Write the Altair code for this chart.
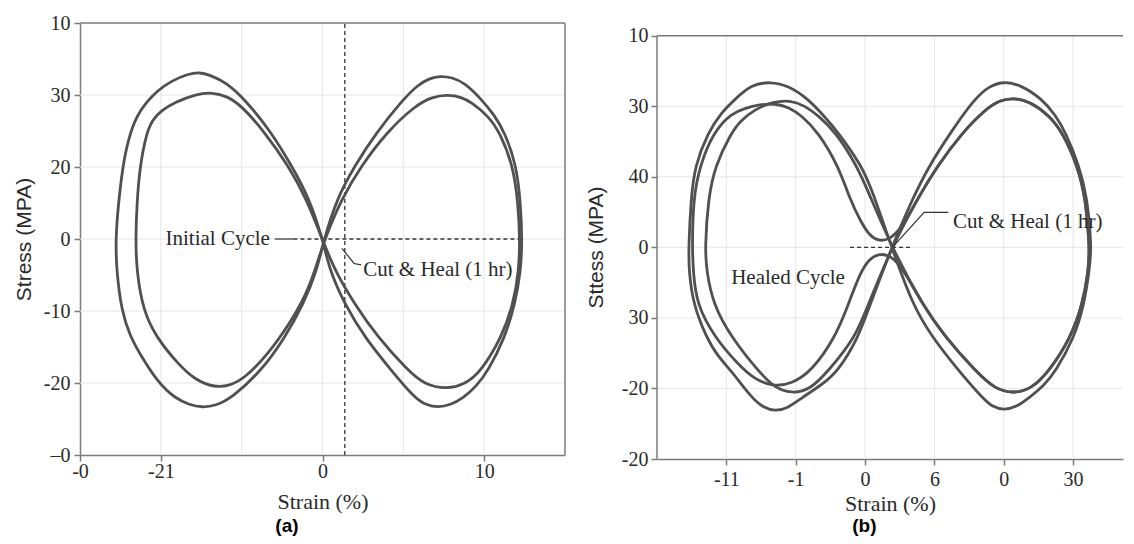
import altair as alt
import pandas as pd

# ---------------- Panel (a) : "Initial Cycle" ----------------
A_OUTER_X = [0.05, -0.8, -1.92, -3.15, -4.8, -6.0, -7.0, -7.58, -8.3, -9.4, -10.2, -10.9, -11.5,
             -12.0, -12.35, -12.62, -12.80, -12.74, -12.43, -11.9, -11.29, -10.16, -9.13, -8.2,
             -7.48, -6.6, -5.63, -3.77, -2.33, -1.19, -0.35,
             0.05, 0.88, 2.0, 3.34, 4.99, 5.9, 6.6, 7.26, 8.0, 8.8, 9.83, 10.6, 11.28, 12.0,
             12.25, 12.35, 12.27, 11.9, 11.28, 10.25, 9.5, 8.7, 7.9, 7.16, 6.4, 5.71, 4.27,
             2.62, 1.38, 0.45]
A_OUTER_Y = [-0.4, 5.6, 10.2, 14.8, 19.4, 21.8, 22.8, 23.15, 22.95, 21.9, 20.6, 19.0, 17.1,
             14.0, 10.2, 5.0, 0, -4.4, -10, -13.5, -16, -20, -22.1, -23.05,
             -23.4, -23.15, -22.1, -18.3, -13.7, -9.1, -4.4,
             -0.4, 5.6, 10.2, 14.8, 19.4, 21.4, 22.3, 22.65, 22.45, 21.7, 19.4, 17.3, 14.8, 10.2,
             5.0, 0, -4.4, -9.1, -13.7, -18.3, -20.5, -22.1, -23.05, -23.4, -23.05, -22.1, -18.3,
             -13.7, -9.1, -4.4]

A_INNER_X = [0.05, -0.99, -2.12, -3.56, -5.0, -5.9, -6.82, -7.8, -9.13, -10.0, -10.5, -10.88,
             -11.29, -11.48, -11.56, -11.5, -11.09, -10.27, -8.92, -7.9, -6.65, -5.7, -4.8,
             -3.36, -1.92, -0.78,
             0.05, 1.18, 2.41, 3.96, 5.71, 6.8, 7.77, 8.6, 9.2, 10.25, 10.97, 11.79, 12.1,
             12.21, 12.15, 11.8, 11.07, 9.83, 8.9, 7.67, 6.3, 5.3, 3.44, 2.0, 0.77]
A_INNER_Y = [-0.4, 5.6, 10.2, 14.8, 18.5, 19.85, 20.35, 20.15, 19.0, 17.8, 16.6, 14.8,
             10.2, 5.0, 0, -4.4, -10, -13.7, -17.4, -19.55, -20.65, -20.35, -19.3,
             -16, -11.4, -6.8,
             -0.4, 5.6, 10.2, 14.8, 18.5, 19.75, 20.05, 19.7, 19.0, 17.1, 14.8, 10.2, 5.0,
             0, -4.4, -9.1, -13.7, -18.3, -20.1, -20.9, -20.2, -18.3, -13.7, -9.1, -4.4]

# ---------------- Panel (b) : "Healed Cycle" ----------------
B_OUTER_X = [1.92, 0.48, -0.25, -1.93, -3.0, -4.09, -5.5, -6.85, -8.2, -9.38, -10.4, -11.31,
             -12.27, -12.55, -12.72, -12.70, -12.39, -11.43, -10.6, -9.62, -8.18, -7.3, -6.49,
             -5.6, -4.57, -3.2, -1.93, -0.5, 0.25,
             1.92, 3.41, 4.62, 6.18, 7.86, 9.0, 10.03, 11.2, 12.79, 13.7, 14.47, 15.44, 16.04,
             16.35, 16.16, 15.8, 15.08, 13.75, 12.9, 11.83, 10.9, 10.03, 9.2, 8.46, 6.78,
             4.86, 3.41]
B_OUTER_Y = [0, 8.27, 11.57, 16.3, 18.7, 21.0, 22.9, 23.5, 23.05, 21.0, 19.0, 16.3,
             11.57, 6.85, 0, -3.36, -8.09, -12.82, -15.5, -17.55, -21.33, -22.75, -23.2,
             -22.85, -21.33, -19.6, -17.55, -12.82, -8.75,
             0, 6.85, 11.57, 16.3, 21.0, 22.95, 23.5, 23.05, 21.0, 18.8, 16.3, 11.57, 6.85,
             0, -3.36, -8.09, -12.82, -17.55, -19.6, -21.33, -22.65, -23.05, -22.65, -21.33,
             -17.55, -12.82, -8.09]

B_INNER_X = [1.92, 0.15, -0.6, -2.1, -3.37, -4.4, -5.41, -6.6, -7.94, -9.0, -9.62, -10.82,
             -11.31, -11.54, -11.43, -10.95, -9.62, -7.70, -6.5, -5.30, -4.0, -2.65, -0.72, 0.1,
             1.92, 3.77, 5.22, 7.02, 8.7, 9.7, 10.75, 11.9, 13.28, 14.24, 15.32, 15.92, 16.2,
             16.11, 15.68, 14.83, 13.28, 12.0, 10.75, 9.4, 7.98, 5.82, 4.13]
B_INNER_Y = [0, 8.27, 11.57, 16.3, 18.67, 20.15, 20.85, 20.65, 19.6, 17.9, 16.3, 11.57,
             6.85, 0, -3.36, -8.09, -12.82, -17.55, -19.95, -20.7, -20.25, -17.55, -12.82, -8.75,
             0, 6.85, 11.57, 16.3, 19.6, 20.85, 21.2, 20.65, 18.67, 16.3, 11.57, 6.85, 0,
             -3.36, -8.09, -12.82, -17.55, -20.05, -20.7, -20.15, -17.55, -12.82, -8.09]

B_HEALED_X = [0.96, 0.35, -0.3, -1.1, -1.93, -3.37, -4.57, -5.5, -6.49, -7.6, -8.7, -9.62,
              -10.95, -11.91, -12.39, -12.46, -12.39, -12.15, -10.82, -9.14, -8.0, -6.62, -5.3,
              -3.85, -2.16, -1.2, -0.4, 0.3,
              0.96, 1.7, 2.66, 4.13, 5.82, 7.98, 9.4, 10.75, 12.0, 13.28, 14.83, 15.68, 16.11,
              16.2, 15.92, 15.32, 14.24, 13.28, 11.9, 10.75, 9.7, 8.7, 7.02, 5.22, 3.77, 2.65,
              1.7]
B_HEALED_Y = [0.94, 1.6, 3.6, 6.85, 11.57, 16.3, 18.67, 19.85, 20.4, 20.25, 19.7, 19.0,
              16.3, 11.57, 6.85, 0, -3.36, -8.09, -12.82, -16.6, -18.65, -19.75, -19.35,
              -17.55, -12.82, -8.09, -3.8, -1.6,
              -0.95, -1.0, -2.7, -8.09, -12.82, -17.55, -20.15, -20.7, -20.05, -17.55, -12.82,
              -8.09, -3.36, 0, 6.85, 11.57, 16.3, 18.67, 20.65, 21.2, 20.85, 19.6, 16.3, 11.57,
              6.85, 2.7, 1.0]

# ---------------- Axes: tick positions and their printed labels ----------------
XA_TICKS = [-15, -10, 0, 10]
XA_LABELS = ["-0", "-21", "0", "10"]
YA_TICKS = [30, 20, 10, 0, -10, -20, -30]
YA_LABELS = ["10", "30", "20", "0", "-10", "-20", "\u20130"]
XB_TICKS = [-10, -5, 0, 5, 10, 15]
XB_LABELS = ["-11", "-1", "0", "6", "0", "30"]
YB_TICKS = [30, 20, 10, 0, -10, -20, -30]
YB_LABELS = ["10", "30", "40", "0", "30", "-20", "-20"]

GRID_XA = [-10, -5, 0, 5, 10]
GRID_XB = [-10, -5, 0, 5, 10, 15]
GRID_Y = [-20, -10, 0, 10, 20]

# annotations
A_TEXT = ["Initial Cycle", "Cut & Heal (1 hr)"]
A_TEXT_X = [-9.71, 2.52]
A_TEXT_Y = [-0.83, -5.1]
A_LEADER_X = [1.2, 1.95, 2.4]
A_LEADER_Y = [-1.3, -3.4, -3.6]
B_TEXT = ["Healed Cycle", "Cut & Heal (1 hr)"]
B_TEXT_X = [-9.65, 6.35]
B_TEXT_Y = [-5.26, 2.7]
B_LEADER_X = [1.97, 4.26, 6.01]
B_LEADER_Y = [0, 4.96, 4.96]

CURVE = "#505050"
AXC = "#7b7b7b"
GRIDC = "#e6e6e6"
TXT = "#2a2a2a"
SERIF = "Liberation Serif"
SANS = "Liberation Sans"

XA_DOM = [-15, 15]
YA_DOM = [-30, 30]
XB_DOM = [-15, 18.6]
YB_DOM = [-30, 31.8]


def label_expr(vals, labels):
    expr = "''"
    for v, l in reversed(list(zip(vals, labels))):
        expr = f"datum.value == {v} ? '{l}' : ({expr})"
    return expr


def curve_df(name, xs, ys):
    return pd.DataFrame({"x": xs, "y": ys, "i": list(range(len(xs))), "c": name})


def make_panel(xdom, ydom, xt, xl, yt, yl, xtitle, ytitle, x_lp, x_tp, y_lp, y_tp,
               curves, grid_x, texts, leader, hdash, vdash, frame_right, ydomain_line,
               tag, tag_xy, width, height, title_y=None):
    xs = alt.Scale(domain=xdom, nice=False, zero=False)
    ys = alt.Scale(domain=ydom, nice=False, zero=False)
    xaxis = alt.Axis(values=xt, labelExpr=label_expr(xt, xl), title=xtitle, grid=False,
                     domainColor=AXC, domainWidth=1.5, tickColor=AXC, tickWidth=1.5, tickSize=6,
                     labelFont=SERIF, labelFontSize=20, labelColor=TXT, labelPadding=x_lp,
                     labelFlush=False, labelOverlap=False,
                     titleFont=SERIF, titleFontSize=22, titleFontWeight="normal", titleColor=TXT,
                     titlePadding=x_tp)
    yargs = dict(values=yt, labelExpr=label_expr(yt, yl), title=ytitle, grid=False,
                 domain=ydomain_line, domainColor=AXC, domainWidth=1.5, tickColor=AXC,
                 tickWidth=1.5, tickSize=6, labelFont=SERIF, labelFontSize=20, labelColor=TXT,
                 labelPadding=y_lp, labelFlush=False, labelOverlap=False,
                 titleFont=SANS, titleFontSize=21, titleFontWeight="normal", titleColor=TXT,
                 titlePadding=y_tp)
    if title_y is not None:
        yargs["titleY"] = title_y
    yaxis = alt.Axis(**yargs)

    def X(f):
        return alt.X(f, type="quantitative", scale=xs, axis=xaxis)

    def Y(f):
        return alt.Y(f, type="quantitative", scale=ys, axis=yaxis)

    layers = []
    # grid lines
    gx = pd.DataFrame({"x": grid_x, "y": ydom[0], "y2": 30})
    layers.append(alt.Chart(gx).mark_rule(color=GRIDC, strokeWidth=1).encode(
        x=X("x"), y=Y("y"), y2="y2"))
    gy = pd.DataFrame({"y": GRID_Y, "x": xdom[0], "x2": xdom[1]})
    layers.append(alt.Chart(gy).mark_rule(color=GRIDC, strokeWidth=1).encode(
        y=Y("y"), x=X("x"), x2="x2"))
    # frame lines (top, right / left)
    fr = [{"x": xdom[0], "x2": xdom[1], "y": 30, "y2": 30}]
    if frame_right:
        fr.append({"x": xdom[1], "x2": xdom[1], "y": -30, "y2": 30})
    if not ydomain_line:
        fr.append({"x": xdom[0], "x2": xdom[0], "y": -30, "y2": 30})
    layers.append(alt.Chart(pd.DataFrame(fr)).mark_rule(color=AXC, strokeWidth=1.5).encode(
        x=X("x"), x2="x2", y=Y("y"), y2="y2"))
    # dashed reference lines
    dl = [{"x": hdash[0], "x2": hdash[1], "y": 0, "y2": 0}]
    if vdash is not None:
        dl.append({"x": vdash, "x2": vdash, "y": -30, "y2": 30})
    layers.append(alt.Chart(pd.DataFrame(dl)).mark_rule(
        color="#333333", strokeWidth=1.3, strokeDash=[4, 3]).encode(
        x=X("x"), x2="x2", y=Y("y"), y2="y2"))
    # curves
    cdf = pd.concat([curve_df(n, cx, cy) for n, cx, cy in curves], ignore_index=True)
    layers.append(alt.Chart(cdf).mark_line(
        interpolate="basis-closed", color=CURVE, strokeWidth=2.8).encode(
        x=X("x"), y=Y("y"), order="i:Q", detail="c:N"))
    # leader lines
    ldf = pd.concat([curve_df(n, lx, ly) for n, lx, ly in leader], ignore_index=True)
    layers.append(alt.Chart(ldf).mark_line(color="#333333", strokeWidth=1.2).encode(
        x=X("x"), y=Y("y"), order="i:Q", detail="c:N"))
    # labels
    tdf = pd.DataFrame({"x": texts[1], "y": texts[2], "t": texts[0]})
    layers.append(alt.Chart(tdf).mark_text(
        align="left", baseline="alphabetic", font=SERIF, fontSize=21, color=TXT).encode(
        x=X("x"), y=Y("y"), text="t:N"))
    tg = pd.DataFrame({"x": [tag_xy[0]], "y": [tag_xy[1]], "t": [tag]})
    layers.append(alt.Chart(tg).mark_text(
        align="center", baseline="alphabetic", font=SANS, fontSize=19, fontWeight="bold",
        color="#000000").encode(x=X("x"), y=Y("y"), text="t:N"))
    return alt.layer(*layers).properties(width=width, height=height)


panel_a = make_panel(
    XA_DOM, YA_DOM, XA_TICKS, XA_LABELS, YA_TICKS, YA_LABELS,
    "Strain (%)", "Stress (MPA)", 0, 10, 4, 9,
    [("outer", A_OUTER_X, A_OUTER_Y), ("inner", A_INNER_X, A_INNER_Y)],
    GRID_XA, (A_TEXT, A_TEXT_X, A_TEXT_Y),
    [("hook", A_LEADER_X, A_LEADER_Y), ("bar", [-2.95, -1.8], [0, 0])],
    (-1.8, 12.35), 1.38, True, True, "(a)", (-2.2, -40.7), 485, 432)

panel_b = make_panel(
    XB_DOM, YB_DOM, XB_TICKS, XB_LABELS, YB_TICKS, YB_LABELS,
    "Strain (%)", "Sttess (MPA)", 4, 4, 3, 15,
    [("outer", B_OUTER_X, B_OUTER_Y), ("inner", B_INNER_X, B_INNER_Y),
     ("healed", B_HEALED_X, B_HEALED_Y)],
    GRID_XB, (B_TEXT, B_TEXT_X, B_TEXT_Y),
    [("lead", B_LEADER_X, B_LEADER_Y)],
    (-1.08, 3.25), None, False, False, "(b)", (-0.05, -40.38), 466, 436, title_y=224)

chart = alt.hconcat(panel_a, panel_b, spacing=19).properties(
    padding={"left": 5, "top": 5, "right": 0, "bottom": 0}
).configure_view(stroke=None)

chart.save("out.html", embed_options={"renderer": "svg", "actions": False})
